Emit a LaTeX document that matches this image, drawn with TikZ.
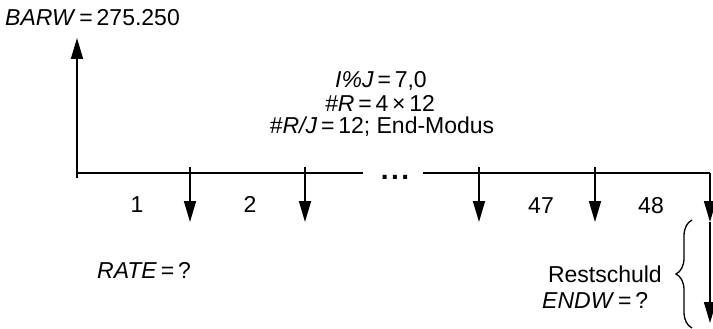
\documentclass[tikz,border=0pt]{standalone}
\usepackage{fontspec}
\setmainfont{Liberation Sans}
\usetikzlibrary{arrows.meta,decorations.pathreplacing}
\tikzset{
  lbl/.style={inner sep=0pt,font=\fontsize{23}{28}\selectfont},
  ln/.style={line width=1.6pt},
  arr/.style={ln,-{Triangle[length=21pt,width=12pt]}},
}
\begin{document}
\begin{tikzpicture}[x=1pt,y=-1pt]
\useasboundingbox (0,0) rectangle (713,329);
% timeline coordinates
\coordinate (L0) at (77,173);
\coordinate (Lt) at (77,178);
\coordinate (L1) at (363,173);
\coordinate (R0) at (423,173);
\coordinate (R1) at (710,173);
\coordinate (up) at (77,38);
\coordinate (a1s) at (190,167);
\coordinate (a1e) at (190,222);
\coordinate (a2s) at (305,167);
\coordinate (a2e) at (305,222);
\coordinate (a3s) at (479,167);
\coordinate (a3e) at (479,222);
\coordinate (a4s) at (595,167);
\coordinate (a4e) at (595,222);
\coordinate (a5e) at (710,222);
\coordinate (a6e) at (710,323);
% lines
\draw[ln] (L0) -- (L1);
\draw[ln] (R0) -- (R1);
\draw[arr] (Lt) -- (up);
\draw[arr] (a1s) -- (a1e);
\draw[arr] (a2s) -- (a2e);
\draw[arr] (a3s) -- (a3e);
\draw[arr] (a4s) -- (a4e);
\draw[arr] (R1) -- (a5e);
\draw[arr] (a5e) -- (a6e);
\node[inner sep=0pt,font=\fontsize{28}{30}\selectfont\bfseries,anchor=base] (dots) at (395,179) {.\kern2.5pt.\kern2.5pt.};
% brace
\draw[line width=1.3pt,decorate,decoration={brace,amplitude=16pt,aspect=0.5}] (692,328) -- (692,220);
% texts
\node[lbl,anchor=base west] (barw) at (5,26) {\textit{BARW}\,=\,275.250};
\node[lbl,anchor=base] (ij) at (381,88) {\textit{I\%J}\,=\,7,0};
\node[lbl,anchor=base] (nr) at (380,111) {\textit{\#R}\,=\,4\,×\,12};
\node[lbl,anchor=base] (nrj) at (382,134) {\textit{\#R/J}\,=\,12; End-Modus};
\node[lbl,anchor=base] (n1) at (137,212) {1};
\node[lbl,anchor=base] (n2) at (250,212) {2};
\node[lbl,anchor=base] (n47) at (541,213) {47};
\node[lbl,anchor=base] (n48) at (651,213) {48};
\node[lbl,anchor=base west] (rate) at (97,278) {\textit{RATE}\,=\,?};
\node[lbl,anchor=base east] (rest) at (662,282) {Restschuld};
\node[lbl,anchor=base west] (endw) at (542,308) {\textit{ENDW}\,=\,?};
\end{tikzpicture}
\end{document}
